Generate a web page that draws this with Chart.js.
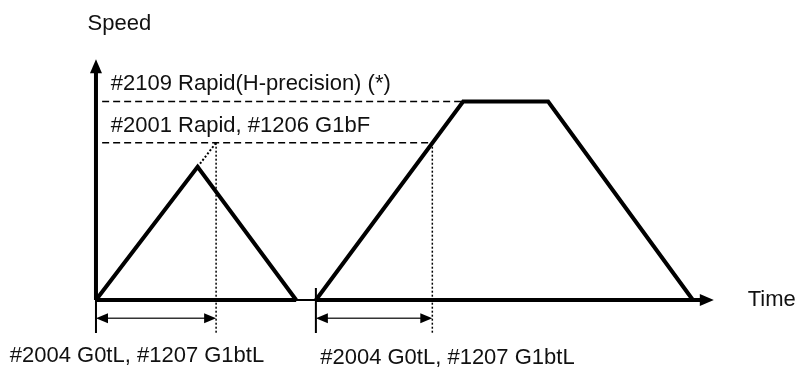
<!DOCTYPE html>
<html>
<head>
<meta charset="utf-8">
<script src="https://cdn.jsdelivr.net/npm/chart.js@4"></script>
<style>
  body { margin: 0; background: #fff; }
  #wrap { width: 797px; height: 370px; }
</style>
</head>
<body>
<div id="wrap"><canvas id="speedChart"></canvas></div>
<script>
// speed profile diagram: time on x, speed on y (arbitrary units)
const rapidLevel = 65;      // #2001 Rapid / #1206 G1bF
const hPrecLevel = 82;      // #2109 Rapid(H-precision)

// triangle profile (short move, no constant speed reached)
const triangleX = [0, 16.5, 32.5];
const triangleY = [0, 55, 0];
// dotted continuation to the rapid level
const extendX = [16.5, 19.5];
const extendY = [55, rapidLevel];

// trapezoid profile
const trapX = [35.7, 59.6, 73.4, 96.9];
const trapY = [0, hPrecLevel, hPrecLevel, 0];

// time constants (acceleration time)
const accelStart = [0, 35.7];
const accelEnd = [19.5, 54.6];

const labels = {
  speed: "Speed",
  time: "Time",
  hPrec: "#2109 Rapid(H-precision) (*)",
  rapid: "#2001 Rapid, #1206 G1bF",
  accel: "#2004 G0tL, #1207 G1btL"
};

const pts = (xs, ys) => xs.map((x, i) => ({ x: x, y: ys[i] }));

const solid = { borderColor: "#000", borderWidth: 4, pointRadius: 0, showLine: true, fill: false, tension: 0 };

const datasets = [
  // axes
  { ...solid, data: pts([0, 0], [0, 97]), borderWidth: 4 },
  { ...solid, data: pts([0, 98.5], [0, 0]), borderWidth: 2 },
  { ...solid, data: pts([0, 32.5], [0, 0]) },
  { ...solid, data: pts([35.7, 98.5], [0, 0]) },
  // ticks under the axis
  { ...solid, data: pts([0, 0], [0, -13.6]), borderWidth: 2 },
  { ...solid, data: pts([35.7, 35.7], [5, -13.6]), borderWidth: 2 },
  // profiles
  { ...solid, data: pts(triangleX, triangleY) },
  { ...solid, data: pts(trapX, trapY) },
  // dotted continuation and time markers
  { ...solid, data: pts(extendX, extendY), borderWidth: 2, borderDash: [2, 2] },
  { ...solid, data: pts([accelEnd[0], accelEnd[0]], [rapidLevel, -14]), borderWidth: 1.5, borderDash: [2, 2] },
  { ...solid, data: pts([accelEnd[1], accelEnd[1]], [rapidLevel, -14]), borderWidth: 1.5, borderDash: [2, 2] },
  // dashed speed levels
  { ...solid, data: pts([1, 54.6], [rapidLevel, rapidLevel]), borderWidth: 1.5, borderDash: [7, 4] },
  { ...solid, data: pts([1, 59.6], [hPrecLevel, hPrecLevel]), borderWidth: 1.5, borderDash: [7, 4] },
  // double arrows for acceleration time
  { ...solid, data: pts([accelStart[0] + 1, accelEnd[0] - 1], [-7.5, -7.5]), borderWidth: 1.5, borderColor: "#333" },
  { ...solid, data: pts([accelStart[1] + 1, accelEnd[1] - 1], [-7.5, -7.5]), borderWidth: 1.5, borderColor: "#333" }
];

const arrowHeads = [
  // x, y, direction, length, half width
  { x: 0, y: 99.5, dir: "up", len: 14, w: 6 },
  { x: 100.3, y: 0, dir: "right", len: 14, w: 6 },
  { x: accelStart[0], y: -7.5, dir: "left", len: 12, w: 5 },
  { x: accelEnd[0], y: -7.5, dir: "right", len: 12, w: 5 },
  { x: accelStart[1], y: -7.5, dir: "left", len: 12, w: 5 },
  { x: accelEnd[1], y: -7.5, dir: "right", len: 12, w: 5 }
];

const texts = [
  { text: labels.speed, x: 3.8, y: 114, align: "center" },
  { text: labels.hPrec, x: 2.4, y: 89.3, align: "left" },
  { text: labels.rapid, x: 2.4, y: 71.9, align: "left" },
  { text: labels.time, x: 105.8, y: 0, align: "left" },
  { text: labels.accel, x: -14, y: -23, align: "left" },
  { text: labels.accel, x: 36.4, y: -24, align: "left" }
];

const decorations = {
  id: "decorations",
  afterDatasetsDraw(chart) {
    const c = chart.ctx;
    const xs = chart.scales.x, ys = chart.scales.y;
    c.save();
    c.fillStyle = "#000";
    arrowHeads.forEach(a => {
      const px = xs.getPixelForValue(a.x), py = ys.getPixelForValue(a.y);
      c.beginPath();
      if (a.dir === "up") {
        c.moveTo(px, py); c.lineTo(px - a.w, py + a.len); c.lineTo(px + a.w, py + a.len);
      } else if (a.dir === "right") {
        c.moveTo(px, py); c.lineTo(px - a.len, py - a.w); c.lineTo(px - a.len, py + a.w);
      } else {
        c.moveTo(px, py); c.lineTo(px + a.len, py - a.w); c.lineTo(px + a.len, py + a.w);
      }
      c.closePath();
      c.fill();
    });
    c.font = "22px 'Liberation Sans', Arial, sans-serif";
    c.fillStyle = "#111";
    c.textBaseline = "middle";
    texts.forEach(t => {
      c.textAlign = t.align;
      c.fillText(t.text, xs.getPixelForValue(t.x), ys.getPixelForValue(t.y));
    });
    c.restore();
  }
};

const ctx = document.getElementById("speedChart");

new Chart(ctx, {
  type: "scatter",
  data: { datasets: datasets },
  options: {
    responsive: true,
    maintainAspectRatio: false,
    animation: false,
    layout: { padding: 0 },
    plugins: { legend: { display: false }, tooltip: { enabled: false } },
    scales: {
      x: { type: "linear", display: false, min: -15.58, max: 113.8 },
      y: { type: "linear", display: false, min: -28.93, max: 123.97 }
    }
  },
  plugins: [decorations]
});
</script>
</body>
</html>
